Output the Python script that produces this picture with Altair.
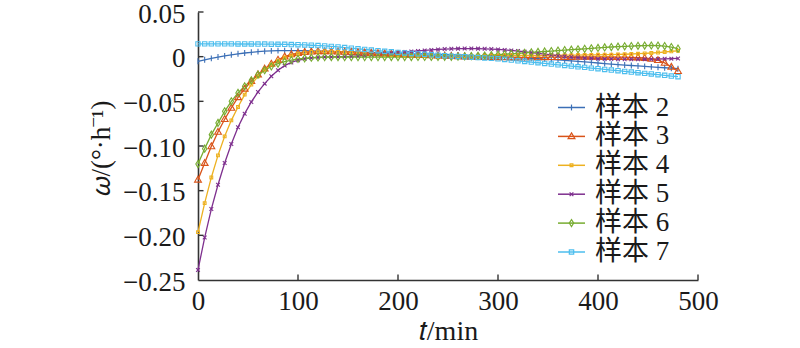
import altair as alt
import pandas as pd

# ---- data ----
t_min = [0, 6.67, 13.33, 20, 26.67, 33.33, 40, 46.67, 53.33, 60,
         66.67, 73.33, 80, 86.67, 93.33, 100, 106.67, 113.33, 120, 126.67,
         133.33, 140, 146.67, 153.33, 160, 166.67, 173.33, 180, 186.67, 193.33,
         200, 206.67, 213.33, 220, 226.67, 233.33, 240, 246.67, 253.33, 260,
         266.67, 273.33, 280, 286.67, 293.33, 300, 306.67, 313.33, 320, 326.67,
         333.33, 340, 346.67, 353.33, 360, 366.67, 373.33, 380, 386.67, 393.33,
         400, 406.67, 413.33, 420, 426.67, 433.33, 440, 446.67, 453.33, 460,
         466.67, 473.33, 480]

s2 = [-0.0052, -0.0035, -0.0019, -0.0004, 0.0009, 0.0021, 0.0032, 0.0041, 0.0049, 0.0056,
      0.0061, 0.0065, 0.0067, 0.0068, 0.0068, 0.0067, 0.0066, 0.0065, 0.0063, 0.0061,
      0.0059, 0.0057, 0.0055, 0.0053, 0.0051, 0.0049, 0.0047, 0.0045, 0.0043, 0.0041,
      0.0039, 0.0037, 0.0035, 0.0033, 0.0031, 0.0029, 0.0026, 0.0024, 0.0021, 0.0019,
      0.0016, 0.0013, 0.0010, 0.0007, 0.0004, 0.0001, -0.0002, -0.0006, -0.0010, -0.0014,
      -0.0018, -0.0022, -0.0027, -0.0032, -0.0037, -0.0042, -0.0047, -0.0053, -0.0059, -0.0065,
      -0.0071, -0.0077, -0.0083, -0.0089, -0.0094, -0.0099, -0.0104, -0.0109, -0.0114, -0.0119,
      -0.0124, -0.0129, -0.0134]

s3 = [-0.1378, -0.1191, -0.1004, -0.0843, -0.0700, -0.0574, -0.0455, -0.0360, -0.0275, -0.0200,
      -0.0135, -0.0080, -0.0035, 0.0000, 0.0025, 0.0040, 0.0050, 0.0056, 0.0060, 0.0060,
      0.0058, 0.0056, 0.0053, 0.0050, 0.0047, 0.0044, 0.0041, 0.0038, 0.0035, 0.0032,
      0.0029, 0.0026, 0.0023, 0.0020, 0.0017, 0.0014, 0.0011, 0.0008, 0.0005, 0.0003,
      0.0001, -0.0001, -0.0003, -0.0005, -0.0006, -0.0007, -0.0008, -0.0008, -0.0009, -0.0009,
      -0.0009, -0.0008, -0.0007, -0.0006, -0.0005, -0.0004, -0.0004, -0.0003, -0.0003, -0.0003,
      -0.0003, -0.0004, -0.0004, -0.0005, -0.0006, -0.0008, -0.0010, -0.0015, -0.0025, -0.0040,
      -0.0070, -0.0115, -0.0163]

s4 = [-0.1964, -0.1639, -0.1352, -0.1105, -0.0892, -0.0713, -0.0563, -0.0425, -0.0313, -0.0220,
      -0.0145, -0.0089, -0.0044, -0.0010, 0.0015, 0.0033, 0.0045, 0.0053, 0.0057, 0.0058,
      0.0057, 0.0054, 0.0050, 0.0045, 0.0040, 0.0035, 0.0030, 0.0026, 0.0022, 0.0019,
      0.0016, 0.0014, 0.0012, 0.0010, 0.0009, 0.0008, 0.0007, 0.0007, 0.0007, 0.0007,
      0.0008, 0.0009, 0.0010, 0.0011, 0.0012, 0.0013, 0.0014, 0.0014, 0.0014, 0.0014,
      0.0015, 0.0015, 0.0015, 0.0016, 0.0016, 0.0017, 0.0017, 0.0018, 0.0019, 0.0020,
      0.0021, 0.0022, 0.0023, 0.0025, 0.0027, 0.0030, 0.0033, 0.0037, 0.0041, 0.0046,
      0.0052, 0.0059, 0.0066]

s5 = [-0.2387, -0.2025, -0.1706, -0.1434, -0.1191, -0.0978, -0.0791, -0.0638, -0.0507, -0.0395,
      -0.0302, -0.0220, -0.0152, -0.0100, -0.0065, -0.0040, -0.0024, -0.0014, -0.0008, -0.0005,
      -0.0003, -0.0001, 0.0001, 0.0004, 0.0008, 0.0013, 0.0018, 0.0024, 0.0030, 0.0037,
      0.0044, 0.0051, 0.0058, 0.0064, 0.0070, 0.0076, 0.0081, 0.0085, 0.0088, 0.0090,
      0.0091, 0.0091, 0.0090, 0.0088, 0.0085, 0.0081, 0.0076, 0.0070, 0.0063, 0.0055,
      0.0046, 0.0037, 0.0028, 0.0019, 0.0011, 0.0003, -0.0004, -0.0010, -0.0015, -0.0019,
      -0.0022, -0.0025, -0.0027, -0.0029, -0.0030, -0.0030, -0.0030, -0.0029, -0.0028, -0.0026,
      -0.0024, -0.0022, -0.0020]

s6 = [-0.1202, -0.1030, -0.0873, -0.0742, -0.0612, -0.0500, -0.0406, -0.0332, -0.0265, -0.0201,
      -0.0152, -0.0110, -0.0078, -0.0055, -0.0038, -0.0026, -0.0018, -0.0012, -0.0008, -0.0005,
      -0.0004, -0.0004, -0.0005, -0.0005, -0.0005, -0.0005, -0.0005, -0.0005, -0.0004, -0.0004,
      -0.0004, -0.0004, -0.0004, -0.0003, -0.0003, -0.0003, -0.0003, -0.0002, -0.0001, 0.0001,
      0.0003, 0.0006, 0.0009, 0.0013, 0.0017, 0.0022, 0.0027, 0.0032, 0.0037, 0.0042,
      0.0047, 0.0053, 0.0058, 0.0063, 0.0068, 0.0073, 0.0078, 0.0083, 0.0088, 0.0093,
      0.0098, 0.0103, 0.0108, 0.0112, 0.0116, 0.0119, 0.0122, 0.0124, 0.0125, 0.0124,
      0.0119, 0.0108, 0.0090]

s7 = [0.0143, 0.0143, 0.0143, 0.0143, 0.0143, 0.0143, 0.0142, 0.0142, 0.0142, 0.0141,
      0.0141, 0.0140, 0.0139, 0.0138, 0.0136, 0.0134, 0.0131, 0.0128, 0.0124, 0.0120,
      0.0115, 0.0109, 0.0102, 0.0095, 0.0088, 0.0081, 0.0074, 0.0067, 0.0060, 0.0054,
      0.0048, 0.0042, 0.0036, 0.0031, 0.0026, 0.0021, 0.0016, 0.0011, 0.0006, 0.0002,
      -0.0002, -0.0006, -0.0010, -0.0014, -0.0019, -0.0024, -0.0031, -0.0039, -0.0046, -0.0054,
      -0.0061, -0.0068, -0.0076, -0.0083, -0.0091, -0.0098, -0.0106, -0.0113, -0.0120, -0.0128,
      -0.0135, -0.0143, -0.0150, -0.0157, -0.0165, -0.0172, -0.0180, -0.0187, -0.0194, -0.0202,
      -0.0209, -0.0217, -0.0224]

names = ["样本 2", "样本 3", "样本 4", "样本 5", "样本 6", "样本 7"]
series = [s2, s3, s4, s5, s6, s7]
x_tick_values = [0, 100, 200, 300, 400, 500]
y_tick_values = [-0.25, -0.20, -0.15, -0.10, -0.05, 0, 0.05]
x_inner_ticks = [100, 200, 300, 400, 500]
y_inner_ticks = [-0.20, -0.15, -0.10, -0.05, 0, 0.05]

# ---- styles ----
colors = ["#3b6fb6", "#d95319", "#edb120", "#7e2f8e", "#77ac30", "#4dbeee"]
shapes = [
    "M0,-0.218L0,0.218",
    "M0,-0.264L0.253,0.172L-0.253,0.172Z",
    "M-0.103,-0.103L0.103,-0.103L0.103,0.103L-0.103,0.103Z",
    "M-0.138,-0.138L0.138,0.138M-0.138,0.138L0.138,-0.138",
    "M0,-0.264L0.161,0L0,0.264L-0.161,0Z",
    "M-0.161,-0.161L0.161,-0.161L0.161,0.161L-0.161,0.161Z",
]
FONT = "Liberation Serif, Noto Sans CJK SC"
TXT = "#1a1a1a"
AX = "#333333"
SYM = 729
LEG_X = 359
LEG_Y = 81
ROW_PAD = 0.9

rows = []
for name, vals in zip(names, series):
    for t, v in zip(t_min, vals):
        rows.append({"t": t, "omega": v, "series": name, "s": name})
df = pd.DataFrame(rows)

x_scale = alt.Scale(domain=[0, 500], nice=False, zero=False)
y_scale = alt.Scale(domain=[-0.25, 0.05], nice=False, zero=False)

x_axis = alt.Axis(
    values=x_tick_values, ticks=False, tickSize=0, grid=False,
    domainColor=AX, domainWidth=1.6,
    labelFont=FONT, labelFontSize=27, labelColor=TXT, labelPadding=8,
    labelFlush=False, labelOverlap=False,
    title="𝑡/min", titleFont=FONT, titleFontSize=28, titleFontWeight="normal",
    titleColor=TXT, titleX=250, titleY=59, titleBaseline="alphabetic", titleAlign="center",
)
y_axis = alt.Axis(
    values=y_tick_values, ticks=False, tickSize=0, grid=False,
    domainColor=AX, domainWidth=1.6,
    labelFont=FONT, labelFontSize=27, labelColor=TXT, labelPadding=13,
    labelOffset=2, labelFlush=False, labelOverlap=False,
    labelExpr="datum.value == 0 ? '0' : replace(format(datum.value, '.2f'), '-', '\u2212')",
    title="𝜔/(°·h⁻¹)", titleFont=FONT, titleFontSize=27, titleFontWeight="normal",
    titleColor=TXT, titleX=-97, titleY=136, titleAngle=270,
    titleAlign="center", titleBaseline="middle",
)

line_legend = alt.Legend(
    orient="none", legendX=LEG_X, legendY=LEG_Y, title=None, padding=0,
    symbolType="stroke", symbolSize=SYM, symbolStrokeWidth=1.5,
    labelFont=FONT, labelFontSize=27, labelColor=TXT, labelOffset=9,
    rowPadding=ROW_PAD,
)
marker_legend = alt.Legend(
    orient="none", legendX=LEG_X, legendY=LEG_Y, title=None, padding=0,
    symbolSize=SYM, symbolStrokeWidth=1.2,
    labelFont=FONT, labelFontSize=27, labelOpacity=0, labelOffset=9,
    rowPadding=ROW_PAD,
)

lines = alt.Chart(df).mark_line(strokeWidth=1.3).encode(
    x=alt.X("t:Q", scale=x_scale, axis=x_axis),
    y=alt.Y("omega:Q", scale=y_scale, axis=y_axis),
    stroke=alt.Stroke("s:N", scale=alt.Scale(range=colors), legend=line_legend),
)

points = alt.Chart(df).mark_point(filled=False, size=SYM, strokeWidth=1.1, opacity=1).encode(
    x=alt.X("t:Q", scale=x_scale, axis=x_axis),
    y=alt.Y("omega:Q", scale=y_scale, axis=y_axis),
    color=alt.Color("series:N", scale=alt.Scale(domain=names, range=colors), legend=marker_legend),
    shape=alt.Shape("series:N", scale=alt.Scale(domain=names, range=shapes), legend=marker_legend),
)

xt = alt.Chart(pd.DataFrame({"t": x_inner_ticks})).mark_rule(color=AX, strokeWidth=1.4).encode(
    x=alt.X("t:Q", scale=x_scale, axis=x_axis),
    y=alt.value(268), y2=alt.value(262.5),
)
yt = alt.Chart(pd.DataFrame({"omega": y_inner_ticks})).mark_rule(color=AX, strokeWidth=1.4).encode(
    y=alt.Y("omega:Q", scale=y_scale, axis=y_axis),
    x=alt.value(0), x2=alt.value(5.5),
)

chart = alt.layer(lines, points, xt, yt).properties(
    width=500, height=268,
    autosize=alt.AutoSizeParams(type="none"),
    padding={"left": 198, "top": 12, "right": 102, "bottom": 68},
    background="white",
).configure_view(stroke=None)

chart.save("out.html", embed_options={"renderer": "svg", "actions": False})
